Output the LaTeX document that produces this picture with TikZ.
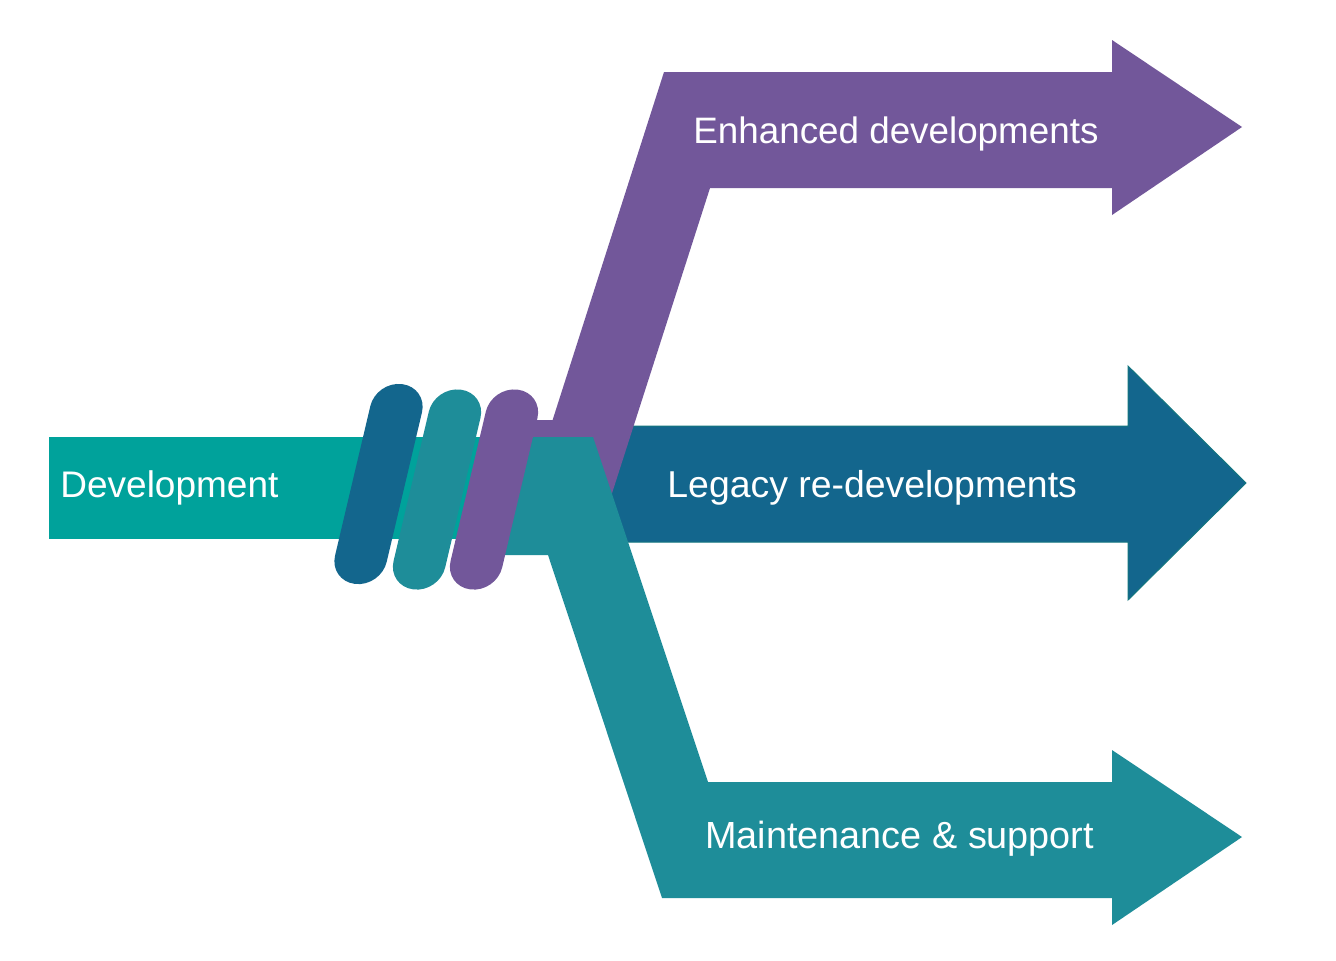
\documentclass[tikz,border=0pt]{standalone}
\usepackage{fontspec}
\setmainfont{Liberation Sans}
\definecolor{devc}{HTML}{00A29B}
\definecolor{legacyc}{HTML}{13668D}
\definecolor{legacyedge}{HTML}{13767F}
\definecolor{tealc}{HTML}{1E8D99}
\definecolor{purplec}{HTML}{72579A}
\begin{document}
\begin{tikzpicture}[x=0.5pt,y=-0.5pt,
  pill/.style={rectangle, draw=none, minimum width=26pt, minimum height=102pt,
    rounded corners=12.9pt, rotate=-7, xslant=0.11, inner sep=0pt},
  lbl/.style={text=white, anchor=base west, inner sep=0pt}]
\useasboundingbox (0,0) rectangle (1336,960);
\fill[white] (0,0) rectangle (1336,960);
% development bar
\fill[devc] (49,437) rectangle (520,539);
% legacy arrow
\path[fill=legacyc, draw=legacyedge, line width=0.5pt]
  (600,426) -- (1128,426) -- (1128,366) -- (1246,483) -- (1128,600)
  -- (1128,542) -- (600,542) -- cycle;
% enhanced (purple) band
\fill[purplec] (664,72) -- (1112,72) -- (1112,40) -- (1242,127) -- (1112,215)
  -- (1112,188) -- (710,188) -- (597,540) -- (500,540) -- (500,420)
  -- (552.6,420) -- cycle;
% maintenance (teal) band
\fill[tealc] (505,437) -- (593,437) -- (708,782) -- (1112,782) -- (1112,750)
  -- (1242,837) -- (1112,925) -- (1112,898) -- (662,898) -- (548,555)
  -- (490,555) -- cycle;
% knot pills
\node[pill, fill=legacyc] (pillA) at (378.5,484) {};
\node[pill, fill=tealc] (pillB) at (437,489.5) {};
\node[pill, fill=purplec] (pillC) at (494,489.5) {};
% labels
\node[lbl, font=\fontsize{18.5pt}{22pt}\selectfont] (dev) at (60,497) {Development};
\node[lbl, font=\fontsize{18.4pt}{22pt}\selectfont] (enh) at (693,143) {Enhanced developments};
\node[lbl, font=\fontsize{18.7pt}{22pt}\selectfont] (leg) at (667,497) {Legacy re-developments};
\node[lbl, font=\fontsize{18.9pt}{22pt}\selectfont] (mnt) at (705,848) {Maintenance \& support};
\end{tikzpicture}
\end{document}
